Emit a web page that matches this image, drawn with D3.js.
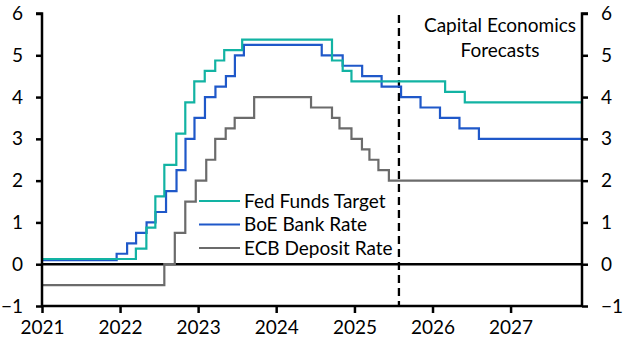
<!DOCTYPE html>
<html>
<head>
<meta charset="utf-8">
<script src="https://cdn.jsdelivr.net/npm/d3@7"></script>
<style>
  html, body { margin: 0; padding: 0; background: #fff; }
  svg text { font-family: Lato, "Open Sans", sans-serif; fill: #000; }
</style>
</head>
<body>
<div id="chart"></div>
<script>
// Policy rates (%), step changes: [date of change, new level]
const fedSteps = [
    ["2021-01-01", 0.125], ["2022-03-16", 0.375], ["2022-05-04", 0.875], ["2022-06-15", 1.625],
    ["2022-07-27", 2.375], ["2022-09-21", 3.125], ["2022-11-02", 3.875], ["2022-12-14", 4.375],
    ["2023-02-01", 4.625], ["2023-03-22", 4.875], ["2023-05-03", 5.125], ["2023-07-26", 5.375],
    ["2024-09-18", 4.875], ["2024-11-07", 4.625], ["2024-12-18", 4.375],
    ["2026-03-01", 4.125], ["2026-06-01", 3.875]
];
const boeSteps = [
    ["2021-01-01", 0.1], ["2021-12-16", 0.25], ["2022-02-03", 0.5], ["2022-03-17", 0.75],
    ["2022-05-05", 1.0], ["2022-06-16", 1.25], ["2022-08-04", 1.75], ["2022-09-22", 2.25],
    ["2022-11-03", 3.0], ["2022-12-15", 3.5], ["2023-02-02", 4.0], ["2023-03-23", 4.25],
    ["2023-05-11", 4.5], ["2023-06-22", 5.0], ["2023-08-03", 5.25],
    ["2024-08-01", 5.0], ["2024-11-07", 4.75], ["2025-02-06", 4.5], ["2025-05-08", 4.25],
    ["2025-08-07", 4.0], ["2025-11-06", 3.75], ["2026-02-05", 3.5], ["2026-05-07", 3.25],
    ["2026-08-06", 3.0]
];
const ecbSteps = [
    ["2021-01-01", -0.5], ["2022-07-27", 0.0], ["2022-09-14", 0.75], ["2022-11-02", 1.5],
    ["2022-12-21", 2.0], ["2023-02-08", 2.5], ["2023-03-22", 3.0], ["2023-05-10", 3.25],
    ["2023-06-21", 3.5], ["2023-09-20", 4.0],
    ["2024-06-12", 3.75], ["2024-09-18", 3.5], ["2024-10-23", 3.25], ["2024-12-18", 3.0],
    ["2025-02-05", 2.75], ["2025-03-12", 2.5], ["2025-04-23", 2.25], ["2025-06-11", 2.0]
];
const seriesNames = ["Fed Funds Target", "BoE Bank Rate", "ECB Deposit Rate"];
const seriesColors = ["#12b3a3", "#1f58c9", "#6b6b6b"];
const yTicks = [-1, 0, 1, 2, 3, 4, 5, 6];
const xTickYears = [2021, 2022, 2023, 2024, 2025, 2026, 2027];
const forecastStart = "2025-07-28";
const endDate = "2027-12-01";

const width = 627, height = 352;
const parse = d3.timeParse("%Y-%m-%d");

const svg = d3.select("#chart").append("svg")
    .attr("width", width)
    .attr("height", height);

const x = d3.scaleTime()
    .domain([parse("2021-01-01"), parse(endDate)])
    .range([42, 582]);

const y = d3.scaleLinear()
    .domain([-1, 6])
    .range([306, 13.5]);

// zero line
svg.append("line")
    .attr("x1", x.range()[0]).attr("x2", x.range()[1])
    .attr("y1", y(0)).attr("y2", y(0))
    .attr("stroke", "#000").attr("stroke-width", 2.5);

// forecast marker
svg.append("line")
    .attr("x1", x(parse(forecastStart))).attr("x2", x(parse(forecastStart)))
    .attr("y1", y(6) + 1.5).attr("y2", y(-1))
    .attr("stroke", "#000").attr("stroke-width", 2.3)
    .attr("stroke-dasharray", "8,5");

svg.append("text")
    .attr("x", 500).attr("y", 32)
    .attr("text-anchor", "middle")
    .style("font-size", "19px")
    .text("Capital Economics");
svg.append("text")
    .attr("x", 500).attr("y", 57)
    .attr("text-anchor", "middle")
    .style("font-size", "19px")
    .text("Forecasts");

// step lines
const line = d3.line()
    .x(d => x(d.date))
    .y(d => y(d.value))
    .curve(d3.curveStepAfter);

const toPoints = steps => {
    const pts = steps.map(([d, v]) => ({ date: parse(d), value: v }));
    pts.push({ date: parse(endDate), value: steps[steps.length - 1][1] });
    return pts;
};

[fedSteps, boeSteps, ecbSteps].map(toPoints).reverse().forEach((pts, i) => {
    svg.append("path")
        .datum(pts)
        .attr("fill", "none")
        .attr("stroke", seriesColors[2 - i])
        .attr("stroke-width", 2.2)
        .attr("d", line);
});

// axes
const leftAxis = svg.append("g")
    .attr("transform", `translate(${x.range()[0]},0)`)
    .call(d3.axisLeft(y).tickValues(yTicks).tickSize(6).tickPadding(13).tickFormat(d3.format("d")));
const rightAxis = svg.append("g")
    .attr("transform", `translate(${x.range()[1]},0)`)
    .call(d3.axisRight(y).tickValues(yTicks).tickSize(6).tickPadding(13).tickFormat(d3.format("d")));
const bottomAxis = svg.append("g")
    .attr("transform", `translate(0,${y(-1)})`)
    .call(d3.axisBottom(x)
        .tickValues(xTickYears.map(yr => new Date(yr, 0, 1)))
        .tickSize(7).tickPadding(8)
        .tickFormat(d3.timeFormat("%Y")));

[leftAxis, rightAxis, bottomAxis].forEach(g => {
    g.select(".domain").attr("stroke", "#000").attr("stroke-width", 2.5);
    g.selectAll(".tick line").attr("stroke", "#000").attr("stroke-width", 2.5);
    g.selectAll(".tick text").style("font-size", "19px").attr("fill", "#000");
});
leftAxis.select(".domain").attr("d", `M0,${y(-1)}V${y(6)}h-6`);
rightAxis.select(".domain").attr("d", `M0,${y(-1)}V${y(6)}h6`);
bottomAxis.select(".domain").attr("d", `M${x.range()[0]},0H${x.range()[1]}`);

// legend
const legend = svg.append("g").attr("transform", "translate(199,201)");
seriesNames.forEach((name, i) => {
    const row = legend.append("g").attr("transform", `translate(0,${i * 23.5})`);
    row.append("line")
        .attr("x1", 0).attr("x2", 41)
        .attr("stroke", seriesColors[i]).attr("stroke-width", 2.2);
    row.append("text")
        .attr("x", 45).attr("y", 0)
        .attr("dy", "0.35em")
        .style("font-size", "19px")
        .text(name);
});
</script>
</body>
</html>
